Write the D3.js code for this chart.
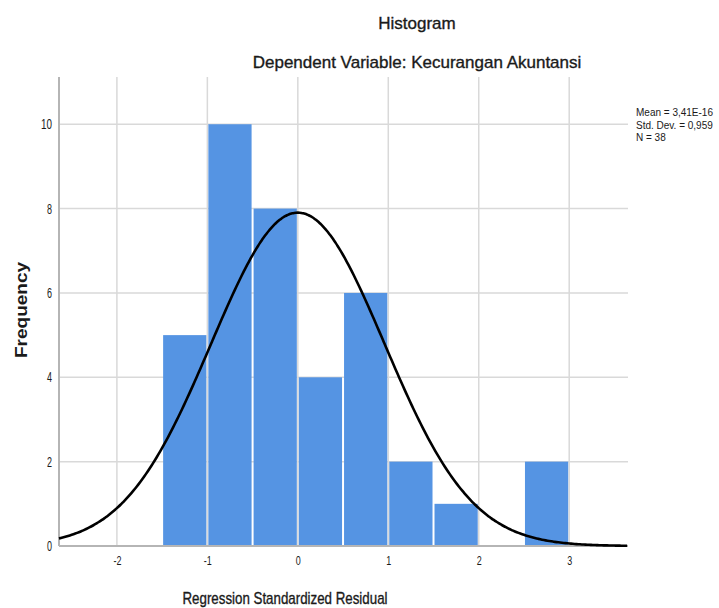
<!DOCTYPE html>
<html>
<head>
<meta charset="utf-8">
<script src="https://cdn.jsdelivr.net/npm/d3@7"></script>
<style>
  body { margin: 0; background: #fff; }
  svg { display: block; }
  text { font-family: "Liberation Sans", Arial, sans-serif; fill: #1a1a1a; }
  .title { stroke: #1a1a1a; stroke-width: 0.35px; }
  .tick line { display: none; }
  .domain { display: none; }
</style>
</head>
<body>
<div id="chart"></div>
<script>
// histogram bins (lower edge) and counts
var binStarts = [-1.5, -1.0, -0.5, 0.0, 0.5, 1.0, 1.5, 2.0, 2.5];
var binCounts = [5, 10, 8, 4, 6, 2, 1, 0, 2];
var binWidth = 0.5;
var xTicks = [-2, -1, 0, 1, 2, 3];
var yTicks = [0, 2, 4, 6, 8, 10];
var stats = ["Mean = 3,41E-16", "Std. Dev. = 0,959", "N = 38"];
var mean = 0, sd = 0.959, n = 38;

var svgWidth = 719, svgHeight = 608;
var margin = { top: 77, right: 91, bottom: 62, left: 59 };
var width = svgWidth - margin.left - margin.right;
var height = svgHeight - margin.top - margin.bottom;

var svg = d3.select("#chart").append("svg")
  .attr("width", svgWidth)
  .attr("height", svgHeight);

var chartGroup = svg.append("g")
  .attr("transform", `translate(${margin.left}, ${margin.top})`);

var xScale = d3.scaleLinear().domain([-2.64, 3.65]).range([0, width]);
var yScale = d3.scaleLinear().domain([0, 11.12]).range([height, 0]);

// grid
chartGroup.selectAll(".vgrid").data(xTicks).enter().append("line")
  .attr("x1", d => xScale(d)).attr("x2", d => xScale(d))
  .attr("y1", 0).attr("y2", height)
  .attr("stroke", "#d9d9d9").attr("stroke-width", 1.5);
chartGroup.selectAll(".hgrid").data(yTicks.slice(1)).enter().append("line")
  .attr("x1", 0).attr("x2", width)
  .attr("y1", d => yScale(d)).attr("y2", d => yScale(d))
  .attr("stroke", "#d9d9d9").attr("stroke-width", 1.5);

// bars
var bins = binStarts.map((s, i) => ({ x0: s, x1: s + binWidth, count: binCounts[i] }));
chartGroup.selectAll(".bar").data(bins.filter(d => d.count > 0)).enter().append("rect")
  .attr("x", d => xScale(d.x0) + 1)
  .attr("width", d => xScale(d.x1) - xScale(d.x0) - 2)
  .attr("y", d => yScale(d.count))
  .attr("height", d => yScale(0) - yScale(d.count))
  .attr("fill", "#5594e3");

// axes lines
chartGroup.append("line")
  .attr("x1", 0).attr("x2", 0).attr("y1", 0).attr("y2", height)
  .attr("stroke", "#b5b5b5").attr("stroke-width", 2);
chartGroup.append("line")
  .attr("x1", 0).attr("x2", width).attr("y1", height).attr("y2", height)
  .attr("stroke", "#b5b5b5").attr("stroke-width", 2);

// normal curve
var xs = d3.range(-2.64, 3.651, 0.02);
var curve = xs.map(x => [x, n * binWidth * Math.exp(-0.5 * Math.pow((x - mean) / sd, 2)) / (sd * Math.sqrt(2 * Math.PI))]);
chartGroup.append("path")
  .datum(curve)
  .attr("fill", "none")
  .attr("stroke", "#000")
  .attr("stroke-width", 2.6)
  .attr("d", d3.line().x(d => xScale(d[0])).y(d => yScale(d[1])).curve(d3.curveBasis));

// axes
var xAxis = chartGroup.append("g")
  .attr("transform", `translate(0, ${height})`)
  .call(d3.axisBottom(xScale).tickValues(xTicks).tickFormat(d => String(d)).tickSize(0).tickPadding(10));
xAxis.selectAll("text").style("font-size", "13px").attr("textLength", d => d < 0 ? 8 : 5)
  .attr("lengthAdjust", "spacingAndGlyphs");

var yAxis = chartGroup.append("g")
  .call(d3.axisLeft(yScale).tickValues(yTicks).tickFormat(d => String(d)).tickSize(0).tickPadding(7));
yAxis.selectAll("text").style("font-size", "14px").attr("textLength", d => d >= 10 ? 11 : 5)
  .attr("lengthAdjust", "spacingAndGlyphs");

// titles
svg.append("text").attr("class", "title").attr("x", 417).attr("y", 29)
  .attr("text-anchor", "middle").style("font-size", "17px")
  .text("Histogram");
svg.append("text").attr("class", "title").attr("x", 417).attr("y", 68)
  .attr("text-anchor", "middle").style("font-size", "17px")
  .text("Dependent Variable: Kecurangan Akuntansi");
svg.append("text").attr("class", "title").attr("x", 285).attr("y", 604)
  .attr("text-anchor", "middle").style("font-size", "17px")
  .attr("textLength", 205).attr("lengthAdjust", "spacingAndGlyphs")
  .text("Regression Standardized Residual");
svg.append("text")
  .attr("transform", "translate(27, 310) rotate(-90)")
  .attr("text-anchor", "middle").style("font-size", "16px")
  .style("font-weight", "bold")
  .attr("textLength", 96).attr("lengthAdjust", "spacingAndGlyphs")
  .text("Frequency");

// stats
svg.selectAll(".stat").data(stats).enter().append("text")
  .attr("x", 636).attr("y", (d, i) => 116 + i * 12.5)
  .style("font-size", "10px")
  .text(d => d);
</script>
</body>
</html>
